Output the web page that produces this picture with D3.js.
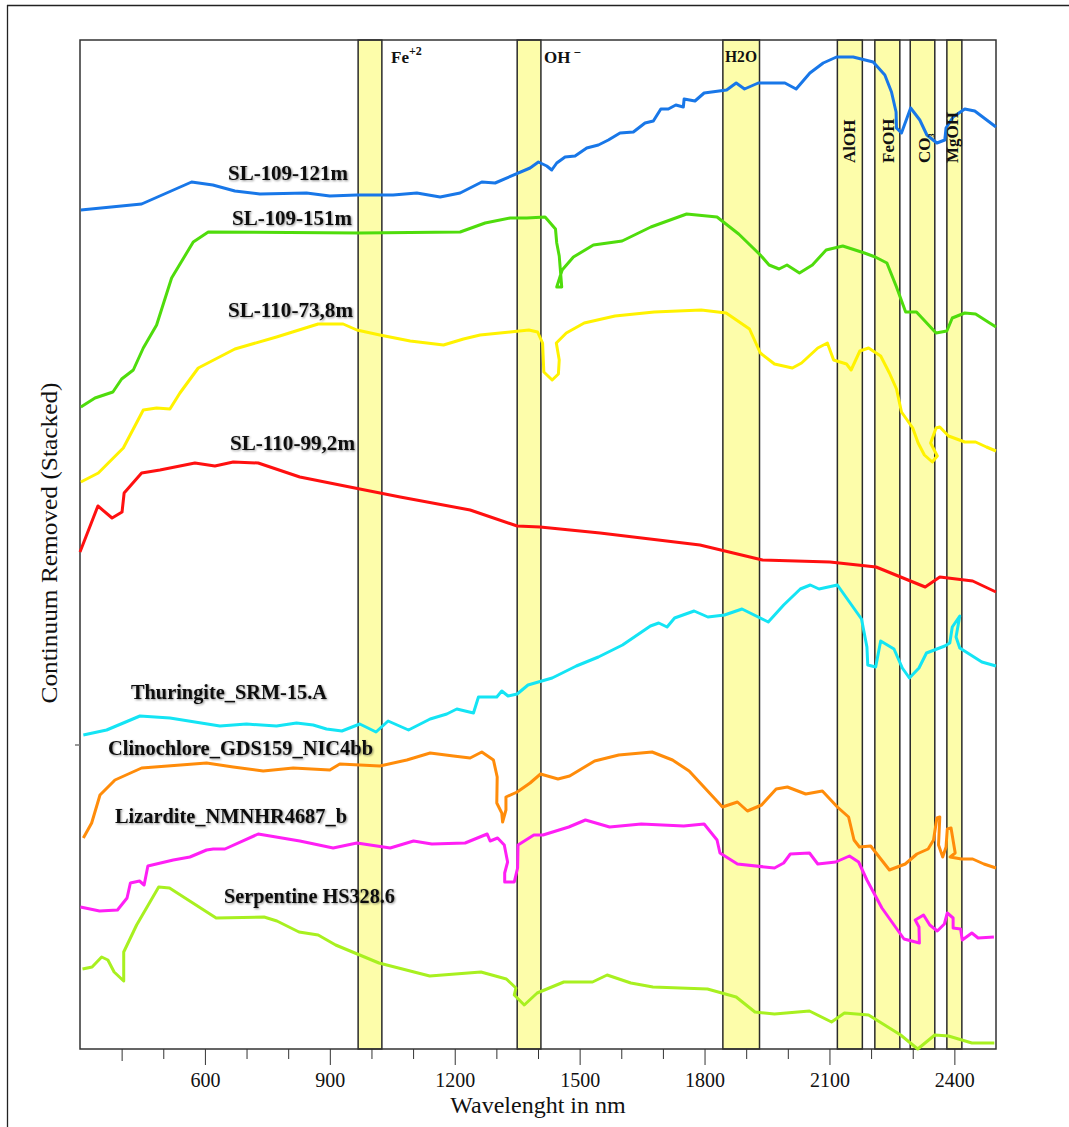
<!DOCTYPE html>
<html>
<head>
<meta charset="utf-8">
<script src="https://cdn.jsdelivr.net/npm/d3@7"></script>
<style>
  body { margin: 0; background: #fff; }
  svg { display: block; font-family: "Liberation Serif", "DejaVu Serif", serif; }
</style>
</head>
<body>
<svg id="chart" width="1069" height="1127"></svg>
<script>
// absorption bands (nm)
const bandNames = ["Fe+2", "OH-", "H2O", "AlOH", "FeOH", "CO", "MgOH"];
const bandStart = [968, 1350, 1844, 2119, 2209, 2294, 2382];
const bandEnd   = [1025, 1407, 1932, 2179, 2269, 2353, 2418];

const xTicks = [400, 500, 600, 700, 800, 900, 1000, 1100, 1200, 1300, 1400, 1500, 1600,
                1700, 1800, 1900, 2000, 2100, 2200, 2300, 2400];
const xLabels = [600, 900, 1200, 1500, 1800, 2100, 2400];

// spectra: [wavelength nm, stacked continuum removed value]
const sl109_121m = [[302,83.9],[448,84.5],[568,86.7],[619,86.4],[672,85.8],[732,85.5],[844,85.6],
  [900,85.3],[965,85.4],[1052,85.4],[1109,85.6],[1165,85.2],[1213,85.6],[1265,86.7],[1297,86.6],
  [1381,88.1],[1401,88.7],[1421,88.3],[1433,87.9],[1445,88.6],[1465,89.2],[1489,89.3],[1517,90.1],
  [1545,90.4],[1569,90.9],[1597,91.6],[1629,91.7],[1657,92.6],[1677,92.8],[1695,94.0],[1713,94.0],
  [1731,94.4],[1749,94.2],[1751,95.0],[1777,94.8],[1799,95.6],[1817,95.7],[1853,95.9],[1876,96.6],
  [1896,96.0],[1929,96.6],[1993,96.6],[2020,96.0],[2053,97.6],[2085,98.6],[2117,99.2],[2157,99.2],
  [2205,98.7],[2233,97.4],[2249,95.7],[2260,93.7],[2261,92.1],[2273,91.6],[2295,94.1],[2317,92.9],
  [2334,91.4],[2358,90.6],[2377,90.9],[2380,92.1],[2397,93.2],[2425,94.0],[2449,93.8],[2500,92.2]];

const sl109_151m = [[302,64.2],[336,65.1],[379,65.7],[400,67.0],[428,67.9],[452,70.1],[484,72.4],
  [520,77.1],[572,80.7],[608,81.7],[972,81.6],[1213,81.7],[1273,82.6],[1333,83.1],[1373,83.1],
  [1417,83.2],[1442,82.0],[1445,80.6],[1451,79.3],[1457,76.2],[1445,76.2],[1458,77.9],[1485,79.2],
  [1533,80.4],[1602,80.8],[1671,82.2],[1757,83.5],[1830,83.2],[1882,81.5],[1934,79.4],[1955,78.4],
  [1979,78.0],[1998,78.4],[2028,77.6],[2059,78.4],[2092,79.9],[2132,80.3],[2184,79.6],[2210,79.2],
  [2238,78.6],[2261,76.2],[2283,73.7],[2309,73.7],[2356,71.6],[2382,71.8],[2395,73.1],[2425,73.6],
  [2451,73.5],[2481,72.7],[2500,72.2]];

const sl110_73m = [[302,56.7],[344,57.6],[404,60.1],[452,63.9],[484,64.1],[516,64.0],[540,65.6],
  [584,68.1],[672,70.0],[772,71.2],[872,72.5],[932,72.5],[965,71.9],[1020,71.4],[1093,70.8],
  [1173,70.4],[1221,71.0],[1261,71.4],[1333,71.7],[1378,71.9],[1399,71.7],[1411,70.6],[1414,67.7],
  [1434,66.9],[1449,67.5],[1451,68.9],[1444,70.6],[1468,71.6],[1511,72.6],[1585,73.3],[1679,73.7],
  [1792,73.9],[1852,73.6],[1908,72.0],[1934,69.6],[1968,68.5],[2011,68.1],[2033,68.6],[2072,70.1],
  [2095,70.6],[2110,68.9],[2141,68.5],[2152,67.9],[2173,69.8],[2194,70.1],[2223,69.3],[2244,67.6],
  [2261,66.0],[2273,63.7],[2300,62.1],[2313,60.6],[2328,59.4],[2347,58.7],[2359,59.3],[2343,60.6],
  [2356,62.1],[2365,62.2],[2386,61.3],[2425,60.7],[2451,60.7],[2477,60.2],[2500,59.8]];

const sl110_99m = [[300,49.7],[343,54.3],[377,53.1],[401,53.7],[406,55.6],[448,57.6],[492,57.9],
  [576,58.6],[624,58.3],[668,58.7],[728,58.6],[828,57.2],[972,56.0],[1069,55.2],[1237,53.9],
  [1350,52.3],[1405,52.2],[1549,51.6],[1789,50.4],[1939,48.9],[2101,48.7],[2212,48.2],[2330,46.2],
  [2365,47.2],[2444,46.8],[2500,45.7]];

const thuringite = [[308,31.4],[364,31.9],[444,33.3],[516,33.1],[636,32.3],[700,32.5],[772,32.3],
  [820,32.6],[860,32.4],[892,32.0],[929,31.8],[972,32.5],[1011,31.7],[1040,32.8],[1089,31.9],
  [1141,33.0],[1181,33.5],[1205,34.0],[1245,33.6],[1257,35.2],[1301,35.2],[1313,35.8],[1328,35.3],
  [1350,35.5],[1376,36.4],[1434,37.1],[1492,38.3],[1545,39.2],[1603,40.4],[1670,42.3],[1690,42.6],
  [1710,42.2],[1728,43.1],[1775,43.8],[1808,43.2],[1848,43.4],[1890,44.0],[1953,42.7],[1990,44.4],
  [2030,46.0],[2054,46.4],[2075,46.0],[2119,46.4],[2177,43.0],[2190,40.2],[2192,38.4],[2211,38.2],
  [2223,40.8],[2255,40.0],[2275,38.1],[2292,37.1],[2315,38.1],[2333,39.6],[2377,40.3],[2389,40.6],
  [2395,42.2],[2413,43.3],[2404,41.2],[2413,40.1],[2466,38.7],[2500,38.3]];

const clinochlore = [[308,21.1],[328,22.6],[348,25.4],[384,26.9],[448,28.1],[604,28.6],[668,28.2],
  [740,27.8],[812,28.1],[900,27.9],[924,28.5],[1020,28.3],[1085,28.9],[1141,29.6],[1197,29.3],
  [1237,29.1],[1265,29.7],[1293,28.9],[1302,27.2],[1301,24.6],[1313,23.6],[1315,22.7],[1323,23.9],
  [1323,25.2],[1350,25.7],[1381,26.6],[1406,27.5],[1448,27.0],[1476,27.3],[1536,28.8],[1594,29.4],
  [1674,29.7],[1723,28.9],[1763,27.8],[1843,24.2],[1879,24.7],[1903,23.8],[1937,24.4],[1972,26.0],
  [1999,26.2],[2043,25.5],[2083,25.8],[2119,24.2],[2146,23.2],[2159,20.9],[2172,20.2],[2199,20.3],
  [2212,19.6],[2244,17.9],[2282,18.5],[2310,19.5],[2337,20.0],[2350,20.9],[2358,23.1],[2365,23.2],
  [2362,20.4],[2372,19.2],[2380,20.2],[2383,22.0],[2392,22.1],[2402,19.6],[2390,19.2],[2417,19.0],
  [2444,19.0],[2471,18.5],[2500,18.1]];

const lizardite = [[301,14.2],[347,13.8],[390,13.9],[413,15.1],[421,16.6],[443,16.8],[454,16.4],
  [463,18.3],[524,18.9],[564,19.2],[604,19.9],[620,20.0],[648,20.0],[728,21.5],[828,20.8],
  [908,20.1],[965,20.6],[1045,20.1],[1101,20.8],[1145,20.5],[1225,20.6],[1278,21.5],[1285,20.8],
  [1303,21.1],[1319,20.4],[1327,18.7],[1320,17.6],[1320,16.7],[1343,16.7],[1351,18.1],[1352,20.4],
  [1390,21.4],[1412,21.4],[1474,22.2],[1514,22.9],[1572,22.2],[1648,22.5],[1750,22.3],[1799,22.5],
  [1830,20.9],[1837,19.6],[1879,18.5],[1968,18.1],[1990,18.6],[2006,19.5],[2052,19.6],[2072,18.5],
  [2115,18.7],[2148,19.3],[2170,18.7],[2190,16.9],[2226,14.1],[2279,11.0],[2316,10.6],[2315,12.2],
  [2306,12.9],[2326,13.4],[2341,12.4],[2359,11.8],[2376,12.5],[2383,13.6],[2397,13.1],[2397,12.1],
  [2415,12.0],[2419,10.9],[2442,11.6],[2457,11.1],[2495,11.2]];

const serpentine = [[306,8.0],[329,8.2],[352,9.2],[367,8.9],[382,7.7],[405,6.8],[405,9.7],
  [436,12.4],[489,16.2],[515,16.1],[627,13.1],[742,13.2],[773,12.8],[826,11.7],[872,11.4],
  [914,10.4],[1018,8.6],[1140,7.3],[1263,7.7],[1324,7.0],[1347,6.1],[1343,5.4],[1367,4.4],
  [1398,5.6],[1462,6.7],[1531,6.7],[1566,7.4],[1623,6.6],[1676,6.2],[1807,6.0],[1876,5.2],
  [1921,3.7],[1968,3.5],[2052,3.8],[2105,2.7],[2136,3.6],[2194,3.4],[2271,1.4],[2312,0.0],
  [2353,1.4],[2386,1.3],[2442,0.6],[2496,0.6]];

const seriesNames = ["SL-109-121m", "SL-109-151m", "SL-110-73,8m", "SL-110-99,2m",
  "Thuringite_SRM-15.A", "Clinochlore_GDS159_NIC4bb", "Lizardite_NMNHR4687_b", "Serpentine HS328.6"];
const seriesData = [sl109_121m, sl109_151m, sl110_73m, sl110_99m,
  thuringite, clinochlore, lizardite, serpentine];
const seriesColors = ["#1877e8", "#4fdc0c", "#fff200", "#ff1010",
  "#14e4f4", "#ff8c0a", "#ff1ff5", "#a8f020"];

const svg = d3.select("#chart");
const mLeft = 80, mRight = 996, mTop = 40, mBottom = 1049;

const x = d3.scaleLinear().domain([300, 2500]).range([mLeft, mRight]);
const y = d3.scaleLinear().domain([0, 100.9]).range([mBottom, mTop]);

svg.append("rect").attr("width", 1069).attr("height", 1127).attr("fill", "#fff");

// outer frame
svg.append("line").attr("x1", 7.5).attr("x2", 7.5).attr("y1", 5).attr("y2", 1127)
  .attr("stroke", "#222").attr("stroke-width", 1.3);
svg.append("line").attr("x1", 7).attr("x2", 1069).attr("y1", 5.5).attr("y2", 5.5)
  .attr("stroke", "#222").attr("stroke-width", 1.3);

const defs = svg.append("defs");
defs.append("filter").attr("id", "shadow").attr("x", "-5%").attr("y", "-30%")
  .attr("width", "110%").attr("height", "160%")
  .append("feDropShadow").attr("dx", 1).attr("dy", 1).attr("stdDeviation", 1)
  .attr("flood-color", "#000").attr("flood-opacity", 0.45);

// bands
svg.selectAll(".band")
  .data(bandNames)
  .join("rect")
  .attr("class", "band")
  .attr("x", (d, i) => x(bandStart[i]))
  .attr("y", mTop)
  .attr("width", (d, i) => x(bandEnd[i]) - x(bandStart[i]))
  .attr("height", mBottom - mTop)
  .attr("fill", "#fdfdaa")
  .attr("stroke", "#2a2a2a")
  .attr("stroke-width", 1.5);

// plot frame
svg.append("rect")
  .attr("x", mLeft).attr("y", mTop)
  .attr("width", mRight - mLeft).attr("height", mBottom - mTop)
  .attr("fill", "none").attr("stroke", "#333").attr("stroke-width", 1.5);

// spectra
const line = d3.line().x(d => x(d[0])).y(d => y(d[1]));
svg.selectAll(".spectrum")
  .data(seriesData)
  .join("path")
  .attr("class", "spectrum")
  .attr("d", line)
  .attr("fill", "none")
  .attr("stroke", (d, i) => seriesColors[i])
  .attr("stroke-width", 3)
  .attr("stroke-linejoin", "round");

// x axis
const xAxis = d3.axisBottom(x)
  .tickValues(xTicks)
  .tickSize(10)
  .tickSizeOuter(0)
  .tickPadding(14)
  .tickFormat(d => xLabels.includes(d) ? d : "");

const gx = svg.append("g")
  .attr("transform", `translate(0,${mBottom})`)
  .call(xAxis);
gx.select(".domain").remove();
gx.selectAll(".tick line")
  .attr("stroke", "#333")
  .attr("y2", d => xLabels.includes(d) ? 16 : (d === 400 ? 12 : 10));
gx.selectAll(".tick text")
  .attr("font-family", "Liberation Serif, serif")
  .attr("font-size", 20)
  .attr("fill", "#111");

svg.append("text")
  .attr("x", (mLeft + mRight) / 2)
  .attr("y", 1113)
  .attr("text-anchor", "middle")
  .attr("font-size", 24)
  .attr("fill", "#111")
  .text("Wavelenght in nm");

svg.append("text")
  .attr("transform", "translate(57,543) rotate(-90)")
  .attr("text-anchor", "middle")
  .attr("font-size", 24)
  .attr("textLength", 321)
  .attr("lengthAdjust", "spacingAndGlyphs")
  .attr("fill", "#111")
  .text("Continuum Removed (Stacked)");

// stray y tick
svg.append("line").attr("x1", 75).attr("x2", 80).attr("y1", 745).attr("y2", 745)
  .attr("stroke", "#777").attr("stroke-width", 1.5);

// band labels on top
const topLabel = svg.append("g")
  .attr("font-size", 17).attr("font-weight", "bold").attr("fill", "#111");
const fe = topLabel.append("text").attr("x", 391).attr("y", 63);
fe.append("tspan").text("Fe");
fe.append("tspan").attr("font-size", 12).attr("dy", -8).text("+2");
const oh = topLabel.append("text").attr("x", 544).attr("y", 63);
oh.append("tspan").text("OH");
oh.append("tspan").attr("font-size", 13).attr("dx", 3).attr("dy", -6).text("\u2212");
topLabel.append("text").attr("x", 725).attr("y", 62).attr("textLength", 32)
  .attr("lengthAdjust", "spacingAndGlyphs").text("H2O");

const vertLabels = [
  { text: "AlOH", x: 855 },
  { text: "FeOH", x: 894 },
  { text: "CO", x: 930 },
  { text: "MgOH", x: 958 }
];
vertLabels.forEach(v => {
  const t = topLabel.append("text")
    .attr("transform", `translate(${v.x},163) rotate(-90)`)
    .attr("font-size", 17);
  t.append("tspan").text(v.text);
  if (v.text === "CO") t.append("tspan").attr("font-size", 8).attr("dy", 4).text("3");
});

// series labels
const labelPos = [
  [228, 180, 120], [232, 225, 120], [228, 317, 125], [230, 450, 125],
  [131, 699, 196], [108, 755, 265], [115, 823, 232], [224, 903, 171]
];
svg.append("g")
  .attr("font-size", 21).attr("font-weight", "bold").attr("fill", "#111")
  .attr("filter", "url(#shadow)")
  .selectAll("text")
  .data(seriesNames)
  .join("text")
  .attr("x", (d, i) => labelPos[i][0])
  .attr("y", (d, i) => labelPos[i][1])
  .attr("textLength", (d, i) => labelPos[i][2])
  .attr("lengthAdjust", "spacingAndGlyphs")
  .text(d => d);
</script>
</body>
</html>
